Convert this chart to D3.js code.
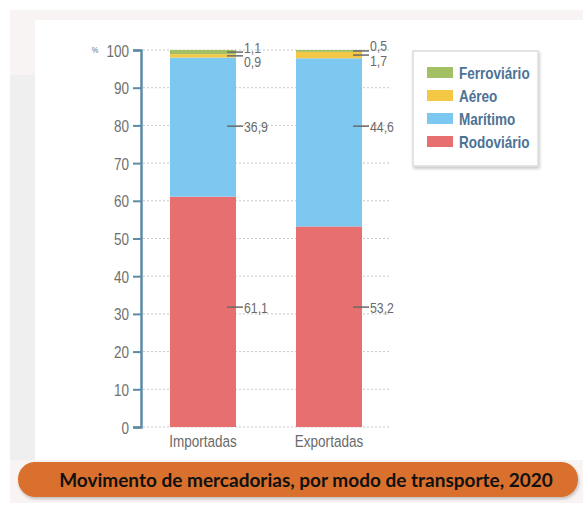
<!DOCTYPE html>
<html>
<head>
<meta charset="utf-8">
<script src="https://cdn.jsdelivr.net/npm/d3@7"></script>
<style>
  html, body { margin: 0; padding: 0; background: #fff; }
  svg { display: block; }
</style>
</head>
<body>
<div id="chart"></div>
<script>
// data
const categories = ['Importadas', 'Exportadas'];
const modes = ['Rodoviário', 'Marítimo', 'Aéreo', 'Ferroviário'];
const rodoviario = [61.1, 53.2];
const maritimo = [36.9, 44.6];
const aereo = [0.9, 1.7];
const ferroviario = [1.1, 0.5];
const yTicks = [0, 10, 20, 30, 40, 50, 60, 70, 80, 90, 100];
const title = 'Movimento de mercadorias, por modo de transporte, 2020';

const colors = {
  'Rodoviário': '#e86f6f',
  'Marítimo': '#7cc8f0',
  'Aéreo': '#f4c744',
  'Ferroviário': '#a3c164'
};

const rows = categories.map((c, i) => ({
  cat: c,
  'Rodoviário': rodoviario[i],
  'Marítimo': maritimo[i],
  'Aéreo': aereo[i],
  'Ferroviário': ferroviario[i]
}));

const W = 583, H = 505;
const svg = d3.select('#chart').append('svg').attr('width', W).attr('height', H);

const defs = svg.append('defs');
const sh = defs.append('filter').attr('id', 'sh').attr('x', '-10%').attr('y', '-20%').attr('width', '120%').attr('height', '150%');
sh.append('feDropShadow').attr('dx', 1).attr('dy', 2).attr('stdDeviation', 1.5).attr('flood-color', '#000').attr('flood-opacity', 0.22);

// backdrop + white panel
svg.append('rect').attr('x', 10).attr('y', 10).attr('width', W - 10).attr('height', H - 12).attr('fill', '#f8f4f3');
svg.append('rect').attr('x', 10).attr('y', 75).attr('width', 25).attr('height', 385).attr('fill', '#efefef');
svg.append('rect').attr('x', 35).attr('y', 20).attr('width', W - 35).attr('height', 440).attr('fill', '#fff');

// condensed look: Liberation Sans squeezed horizontally
const font = '"Liberation Sans", Arial, sans-serif';
const squeeze = 0.82;
const narrowText = (g, tx, ty, str, size, fill, anchor) =>
  g.append('text')
    .attr('transform', `translate(${tx},${ty}) scale(${squeeze},1)`)
    .attr('text-anchor', anchor || 'start')
    .attr('font-family', font).attr('font-size', size).attr('fill', fill)
    .text(str);

const x = d3.scaleBand().domain(categories).range([142, 390]).paddingInner(0.476).paddingOuter(0.222);
const y = d3.scaleLinear().domain([0, 100]).range([427, 50]);

// grid
svg.append('g').selectAll('line').data(yTicks).join('line')
  .attr('x1', 143).attr('x2', 390)
  .attr('y1', d => y(d)).attr('y2', d => y(d))
  .attr('stroke', '#c8c8c8').attr('stroke-width', 1).attr('stroke-dasharray', '2,2');

// stacked bars
const stack = d3.stack().keys(modes)(rows);
svg.append('g').selectAll('g').data(stack).join('g')
  .attr('fill', d => colors[d.key])
  .selectAll('rect').data(d => d).join('rect')
  .attr('x', d => x(d.data.cat))
  .attr('width', x.bandwidth())
  .attr('y', d => y(d[1]))
  .attr('height', d => y(d[0]) - y(d[1]));

// axis
const axis = svg.append('g').attr('transform', 'translate(141,0)')
  .call(d3.axisLeft(y).tickValues(yTicks).tickSize(8).tickPadding(5).tickFormat(d3.format('d')));
axis.select('.domain').attr('stroke', '#5e8aa6').attr('stroke-width', 2.5);
axis.selectAll('.tick line').attr('stroke', '#5e8aa6').attr('stroke-width', 2);
axis.selectAll('.tick text')
  .attr('x', null).attr('dy', null)
  .attr('transform', `translate(-12,6) scale(${squeeze},1)`)
  .attr('fill', '#707070').attr('font-size', 16.5).attr('font-family', font);

narrowText(svg, 95, 53, '%', 9, '#707070', 'middle');

// category labels
const cl = svg.append('g');
categories.forEach(c => narrowText(cl, x(c) + x.bandwidth() / 2, 447, c, 16.5, '#6a6a6a', 'middle'));

// value labels with leader lines
const labelLevel = { 'Rodoviário': 31.8, 'Marítimo': 79.8 };
const fmt = v => d3.format('.1f')(v).replace('.', ',');
const ann = svg.append('g');
stack.forEach(s => {
  s.forEach(d => {
    const xr = x(d.data.cat) + x.bandwidth();
    const v = d[1] - d[0];
    let ly, ty;
    if (labelLevel[s.key] !== undefined) {
      ly = y(labelLevel[s.key]);
      ty = ly + 5.5;
    } else {
      ly = y((d[0] + d[1]) / 2);
      ty = s.key === 'Ferroviário' ? ly + 0.5 : ly + 11;
    }
    ann.append('line').attr('x1', xr - 9).attr('x2', xr + 7).attr('y1', ly).attr('y2', ly)
      .attr('stroke', '#6a6a6a').attr('stroke-width', 1.5);
    narrowText(ann, xr + 8, ty, fmt(v), 15, '#6a6a6a');
  });
});

// legend
const lg = svg.append('g').attr('transform', 'translate(413,51)');
lg.append('rect').attr('width', 125).attr('height', 115).attr('fill', '#fff')
  .attr('stroke', '#dcdcdc').attr('stroke-width', 1.5).attr('filter', 'url(#sh)');
const legendOrder = modes.slice().reverse();
legendOrder.forEach((m, i) => {
  const it = lg.append('g').attr('transform', `translate(14,${16 + i * 23})`);
  it.append('rect').attr('width', 26).attr('height', 11).attr('fill', colors[m]);
  narrowText(it, 32, 11.5, m, 16.5, '#4b7395').attr('font-weight', 600);
});

// title pill
svg.append('rect').attr('x', 18).attr('y', 462).attr('width', 560).attr('height', 35).attr('rx', 17)
  .attr('fill', '#d96f2d').attr('filter', 'url(#sh)');
svg.append('text').attr('x', 306).attr('y', 486.5).attr('text-anchor', 'middle')
  .attr('font-family', 'Lato, "Open Sans", sans-serif').attr('font-size', 19).attr('font-weight', 700)
  .attr('fill', '#111').text(title);
</script>
</body>
</html>
